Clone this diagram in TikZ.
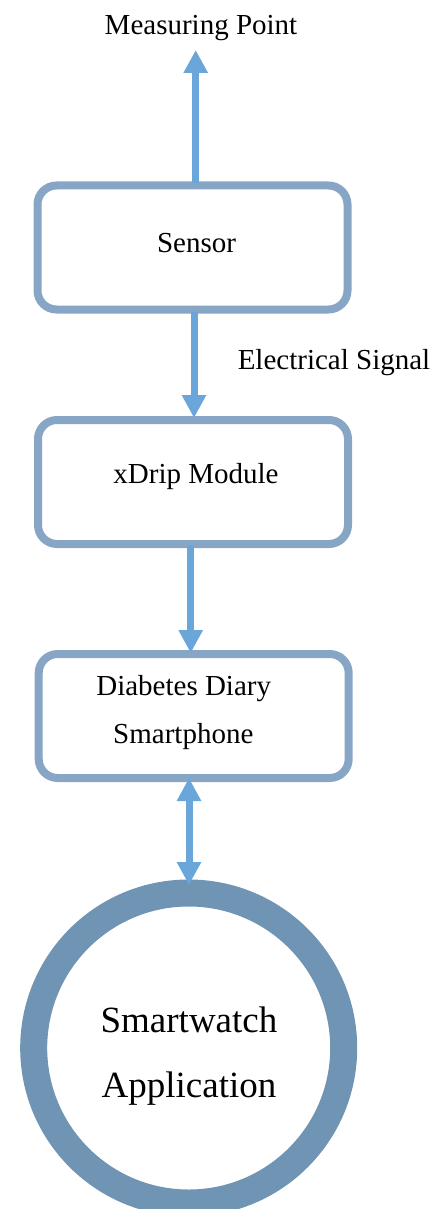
\documentclass[tikz,border=0pt]{standalone}
\usepackage{fontspec}
\setmainfont{Liberation Serif}
\usetikzlibrary{arrows.meta,calc}
\definecolor{boxline}{RGB}{135,165,196}
\definecolor{flow}{RGB}{106,166,218}
\definecolor{ring}{RGB}{112,148,180}
\begin{document}
\begin{tikzpicture}[x=1pt,y=1pt,
  stage/.style={draw=boxline, line width=8pt, rounded corners=19pt,
    minimum width=310pt, minimum height=124pt, inner sep=0pt, outer sep=0pt, fill=white},
  txt/.style={anchor=base, inner sep=0pt, font=\fontsize{29}{35}\selectfont},
  bigtxt/.style={anchor=base, inner sep=0pt, font=\fontsize{37}{44}\selectfont},
  tip/.tip={Triangle[width=23pt,length=23pt]},
  flowarrow/.style={draw=flow, line width=7pt, -tip},
  twoway/.style={draw=flow, line width=7pt, tip-tip},
]
\useasboundingbox (0,0) rectangle (443,-1209);
\clip (0,0) rectangle (443,-1209);

% processing stages
\node[stage] (sensor) at (192.5,-247.5) {};
\node[stage] (xdrip)  at (193,-482) {};
\node[stage] (diary)  at (193.7,-716) {};
\node[circle, draw=ring, line width=27pt, minimum size=310pt,
      inner sep=0pt, outer sep=0pt, fill=white] (watch) at (188.7,-1048) {};

% texts
\node[txt] (mptext) at (201,-34.3) {Measuring Point};
\node[txt] (sensortext) at (196.5,-252) {Sensor};
\node[txt] (signal) at (334,-369) {Electrical Signal};
\node[txt] (xdriptext) at (196,-483) {xDrip Module};
\node[txt] (diary1) at (183.7,-695.7) {Diabetes Diary};
\node[txt] (diary2) at (183.3,-743.3) {Smartphone};
\node[bigtxt] (watch1) at (189,-1032) {Smartwatch};
\node[bigtxt] (watch2) at (189,-1097) {Application};

% data flow
\coordinate (mp) at (195.7,-50);
\draw[flowarrow] ($(sensor.north)+(3.2,2)$) -- (mp);
\draw[flowarrow] ($(sensor.south)+(1.5,-2)$) -- ($(xdrip.north)+(1,2)$);
\draw[flowarrow] ($(xdrip.south)+(-2.3,-1)$) -- ($(diary.north)+(-3,1)$);
\draw[twoway] ($(diary.south)+(-4.7,0)$) -- ($(watch.north)+(0.3,8)$);
\end{tikzpicture}
\end{document}
